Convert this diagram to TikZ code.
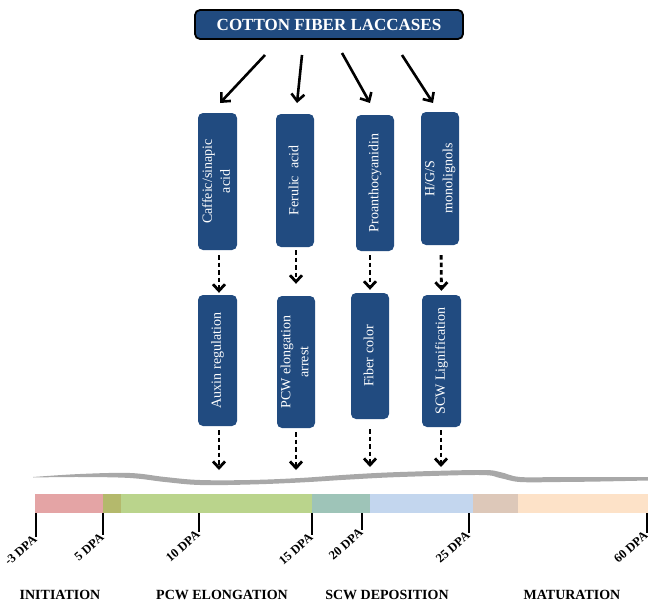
\documentclass[tikz,border=0pt]{standalone}
\usepackage{fontspec}
\setmainfont{Liberation Serif}
\usetikzlibrary{arrows.meta,calc}
\definecolor{boxblue}{RGB}{33,75,128}
\definecolor{wavegray}{RGB}{168,168,168}
\definecolor{cpink}{RGB}{228,164,165}
\definecolor{colive}{RGB}{180,185,108}
\definecolor{cgreen}{RGB}{186,212,140}
\definecolor{cteal}{RGB}{158,196,184}
\definecolor{cblue}{RGB}{195,214,238}
\definecolor{ctan}{RGB}{221,200,185}
\definecolor{cpeach}{RGB}{253,226,200}
\tikzset{
  vbox/.style={fill=boxblue, rounded corners=5pt, inner sep=0pt, text=white, font=\fontsize{14}{17}\selectfont},
  titlebox/.style={fill=boxblue, draw=black, line width=1.8pt, rounded corners=5pt, text=white, font=\fontsize{17}{20}\selectfont\bfseries, minimum width=268pt, minimum height=29pt, inner sep=0pt},
  solidarr/.style={line width=2.6pt, -{Straight Barb[length=7pt,width=13pt]}},
  dasharr/.style={line width=2.8pt, dash pattern=on 4.5pt off 3pt, -{Straight Barb[length=6.5pt,width=12pt]}},
  tick/.style={line width=1.4pt},
  dpa/.style={font=\fontsize{12.5}{14}\selectfont\bfseries, rotate=41, anchor=east, inner sep=1pt},
  phase/.style={font=\fontsize{14}{16}\selectfont\bfseries, inner sep=0pt}
}
\newcommand{\vtext}[1]{\rotatebox{90}{\begin{tabular}{@{}c@{}}#1\end{tabular}}}
\begin{document}
\begin{tikzpicture}[x=1pt,y=-1pt]
\useasboundingbox (0,0) rectangle (648,602);
% title
\node[titlebox] (title) at (329,24.5) {COTTON FIBER LACCASES};
% upper boxes
\node[vbox, minimum width=39pt, minimum height=137pt] (u1) at (217.5,181.5) {\vtext{Caffeic/sinapic\\[1pt] acid}};
\node[vbox, minimum width=38pt, minimum height=133pt] (u2) at (295,180.5) {\vtext{Ferulic\enspace acid}};
\node[vbox, minimum width=38pt, minimum height=136pt] (u3) at (375,183) {\vtext{Proanthocyanidin}};
\node[vbox, minimum width=38pt, minimum height=133pt] (u4) at (440,178.5) {\vtext{H/G/S\\[1pt] monolignols}};
% lower boxes
\node[vbox, minimum width=39pt, minimum height=131pt] (l1) at (217.5,360.5) {\vtext{Auxin regulation}};
\node[vbox, minimum width=38pt, minimum height=132pt] (l2) at (296,362) {\vtext{PCW elongation\\[1pt] arrest}};
\node[vbox, minimum width=38pt, minimum height=126pt] (l3) at (370,356) {\vtext{Fiber color}};
\node[vbox, minimum width=39pt, minimum height=132pt] (l4) at (441.5,361) {\vtext{SCW Lignification}};
% solid arrows from title
\coordinate (s1) at (265,55); \coordinate (e1) at (220,103);
\coordinate (s2) at (302,55); \coordinate (e2) at (297,103);
\coordinate (s3) at (342,53); \coordinate (e3) at (370,103);
\coordinate (s4) at (402,55); \coordinate (e4) at (433,103);
\draw[solidarr] (s1) -- (e1);
\draw[solidarr] (s2) -- (e2);
\draw[solidarr] (s3) -- (e3);
\draw[solidarr] (s4) -- (e4);
% dashed arrows between boxes
\draw[dasharr, shorten <=5pt, shorten >=2pt] (u1.south -| 219,0) -- (l1.north -| 219,0);
\draw[dasharr, shorten <=3pt, shorten >=12pt] (u2.south -| 296,0) -- (l2.north -| 296,0);
\draw[dasharr, shorten <=4pt, shorten >=3pt] (u3.south -| l3) -- (l3.north);
\draw[dasharr, shorten <=10pt, shorten >=4pt] (u4.south -| 441,0) -- (l4.north);
% dashed arrows below
\coordinate (b1) at (219,470); \coordinate (b2) at (296,470);
\coordinate (b3) at (370,467); \coordinate (b4) at (441,467);
\draw[dasharr, shorten <=4pt] (l1.south -| b1) -- (b1);
\draw[dasharr, shorten <=4pt] (l2.south -| b2) -- (b2);
\draw[dasharr, shorten <=10pt] (l3.south -| b3) -- (b3);
\draw[dasharr, shorten <=3pt] (l4.south -| b4) -- (b4);
% gray wave
\fill[wavegray] plot[smooth, tension=0.6] coordinates {(33,477) (80,474) (130,473) (165,477) (200,480) (250,480) (300,478) (350,474.5) (400,472) (480,470) (500,472) (520,477) (560,477) (600,477) (648,477)}
 -- plot[smooth, tension=0.6] coordinates {(648,480.5) (600,481.5) (560,482) (520,482) (500,478) (480,475) (400,477) (350,479.5) (300,482.5) (250,484.5) (200,485) (165,482) (130,478) (80,477) (33,477.5)} -- cycle;
% timeline bar
\fill[cpink]  (35,494) rectangle (103,513);
\fill[colive] (103,494) rectangle (121,513);
\fill[cgreen] (121,494) rectangle (312,513);
\fill[cteal]  (312,494) rectangle (370,513);
\fill[cblue]  (370,494) rectangle (473,513);
\fill[ctan]   (473,494) rectangle (518,513);
\fill[cpeach] (518,494) rectangle (648,513);
% ticks
\coordinate (t1) at (36,537); \coordinate (t2) at (103,535); \coordinate (t3) at (199,532);
\coordinate (t4) at (312,535); \coordinate (t5) at (362,530); \coordinate (t6) at (469,533);
\coordinate (t7) at (647,533);
\draw[tick] (36,513) -- (t1);
\draw[tick] (103,513) -- (t2);
\draw[tick] (199,513) -- (t3);
\draw[tick] (312,513) -- (t4);
\draw[tick] (362,513) -- (t5);
\draw[tick] (469,513) -- (t6);
\draw[tick] (647,513) -- (t7);
\node[dpa] (d1) at (t1) {-3 DPA};
\node[dpa] (d2) at (t2) {5 DPA};
\node[dpa] (d3) at (t3) {10 DPA};
\node[dpa] (d4) at (t4) {15 DPA};
\node[dpa] (d5) at (t5) {20 DPA};
\node[dpa] (d6) at (t6) {25 DPA};
\node[dpa] (d7) at (t7) {60 DPA};
% phase labels
\node[phase] (p1) at (60,595) {INITIATION};
\node[phase] (p2) at (222,595) {PCW ELONGATION};
\node[phase] (p3) at (387,595) {SCW DEPOSITION};
\node[phase] (p4) at (572,595) {MATURATION};
\end{tikzpicture}
\end{document}
